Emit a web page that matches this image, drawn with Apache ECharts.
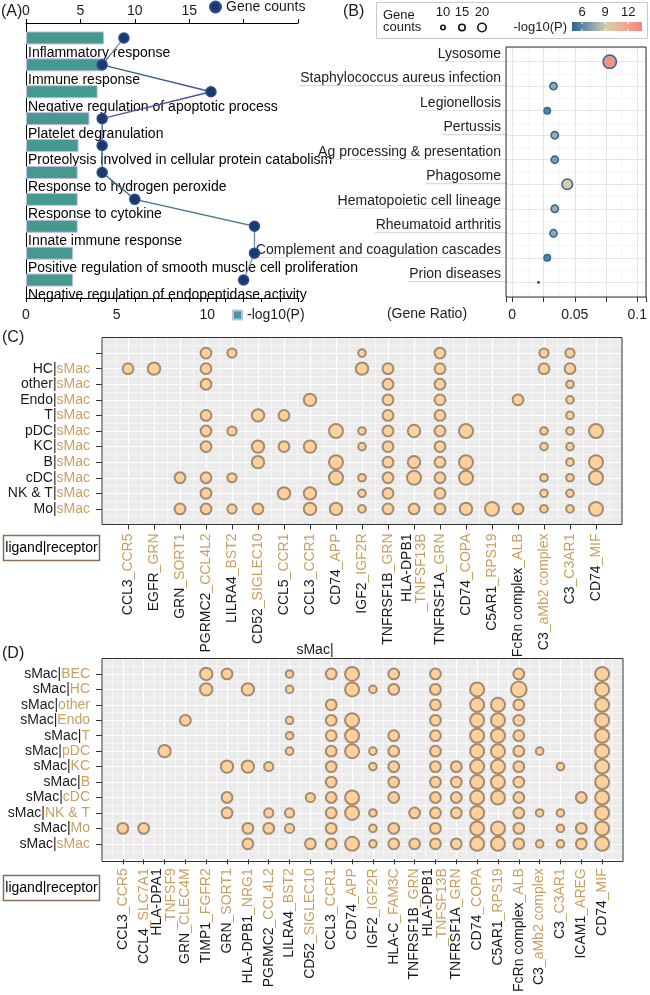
<!DOCTYPE html>
<html><head><meta charset="utf-8">
<script src="https://cdn.jsdelivr.net/npm/echarts@6/dist/echarts.min.js"></script>
<style>html,body{margin:0;padding:0;background:#fff}#c{width:650px;height:995px}</style>
</head><body><div id="c"></div>
<script>
// ---------------- Panel A : GO terms ----------------
const goTerms = ['Inflammatory response', 'Immune response', 'Negative regulation of apoptotic process',
  'Platelet degranulation', 'Proteolysis involved in cellular protein catabolism', 'Response to hydrogen peroxide',
  'Response to cytokine', 'Innate immune response', 'Positive regulation of smooth muscle cell proliferation',
  'Negative regulation of endopeptidase activity'];
const goLogP = [4.3, 4.3, 3.95, 3.5, 2.9, 2.85, 2.85, 2.85, 2.6, 2.6];
const goCounts = [9, 7, 17, 7, 7, 7, 10, 21, 21, 20];
const logPTicks = [0, 5, 10];
const countTicks = [0, 5, 10, 15];

// ---------------- Panel B : KEGG ----------------
const keggTerms = ['Lysosome', 'Staphylococcus aureus infection', 'Legionellosis', 'Pertussis',
  'Ag processing & presentation', 'Phagosome', 'Hematopoietic cell lineage', 'Rheumatoid arthritis',
  'Complement and coagulation cascades', 'Prion diseases'];
const keggRatio = [0.078, 0.033, 0.028, 0.034, 0.034, 0.044, 0.034, 0.033, 0.028, 0.021];
const keggCounts = [32, 17, 15, 17, 17, 25, 17, 17, 15, 3];
const keggLogP = [13.0, 7.5, 6.0, 7.8, 7.0, 9.5, 7.8, 7.6, 6.0, 5.0];
const ratioTicks = [0, 0.05, 0.1];
const sizeLegend = [10, 15, 20];
const colorTicks = [6, 9, 12];

// ---------------- Panel C : ligand|receptor -> sMac ----------------
const ligandsC = ['CCL3', 'EGFR', 'GRN', 'PGRMC2', 'LILRA4', 'CD52', 'CCL5', 'CCL3', 'CD74', 'IGF2', 'TNFRSF1B',
  'HLA-DPB1', 'TNFRSF1A', 'CD74', 'C5AR1', 'FcRn complex', 'C3', 'C3', 'CD74'];
const receptorsC = ['CCR5', 'GRN', 'SORT1', 'CCL4L2', 'BST2', 'SIGLEC10', 'CCR1', 'CCR1', 'APP', 'IGF2R', 'GRN',
  'TNFSF13B', 'GRN', 'COPA', 'RPS19', 'ALB', 'aMb2 complex', 'C3AR1', 'MIF'];
const sendersC = ['', 'HC', 'other', 'Endo', 'T', 'pDC', 'KC', 'B', 'cDC', 'NK & T', 'Mo'];
const receiverC = 'sMac';
const levelsC = [
  [0,0,0,3,2,0,0,0,0,1,0,0,3,0,0,0,2,2,0],
  [3,4,0,3,0,0,0,0,0,4,3,0,3,0,0,0,3,3,0],
  [0,0,0,3,0,0,0,0,0,0,3,0,3,0,0,0,0,1,0],
  [0,0,0,0,0,0,0,4,0,0,3,0,3,0,0,3,0,1,0],
  [0,0,0,3,0,4,3,0,0,0,3,0,3,0,0,0,0,1,0],
  [0,0,0,3,2,0,0,0,5,1,3,4,3,5,0,0,1,1,5],
  [0,0,0,3,0,4,3,4,0,1,3,0,3,0,0,0,1,1,0],
  [0,0,0,0,0,4,0,0,5,0,3,4,3,5,0,0,0,1,5],
  [0,0,3,3,2,0,0,0,5,1,3,5,3,5,0,0,1,1,5],
  [0,0,0,3,0,0,4,4,0,1,3,0,3,0,0,0,1,1,0],
  [0,0,3,3,2,3,0,4,4,1,3,3,3,4,5,3,1,1,5]
];

// ---------------- Panel D : sMac -> ligand|receptor ----------------
const ligandsD = ['CCL3', 'CCL4', 'HLA-DPA1', 'GRN', 'TIMP1', 'GRN', 'HLA-DPB1', 'PGRMC2', 'LILRA4', 'CD52', 'CCL3',
  'CD74', 'IGF2', 'HLA-C', 'TNFRSF1B', 'HLA-DPB1', 'TNFRSF1A', 'CD74', 'C5AR1', 'FcRn complex', 'C3', 'C3', 'ICAM1', 'CD74'];
const receptorsD = ['CCR5', 'SLC7A1', 'TNFSF9', 'CLEC4M', 'FGFR2', 'SORT1', 'NRG1', 'CCL4L2', 'BST2', 'SIGLEC10', 'CCR1',
  'APP', 'IGF2R', 'FAM3C', 'GRN', 'TNFSF13B', 'GRN', 'COPA', 'RPS19', 'ALB', 'aMb2 complex', 'C3AR1', 'AREG', 'MIF'];
const senderD = 'sMac';
const receiversD = ['BEC', 'HC', 'other', 'Endo', 'T', 'pDC', 'KC', 'B', 'cDC', 'NK & T', 'Mo', 'sMac'];
const levelsD = [
  [0,0,0,0,4,3,0,0,1,0,3,5,0,3,0,3,0,0,0,3,0,0,0,5],
  [0,0,0,0,4,0,4,0,1,0,0,5,1,3,0,3,0,5,0,6,0,0,0,5],
  [0,0,0,0,0,0,0,0,0,0,3,0,0,0,0,3,0,5,5,3,0,0,0,5],
  [0,0,0,3,0,0,0,0,1,0,3,5,0,0,0,3,0,5,5,3,0,0,0,5],
  [0,0,0,0,0,0,0,0,1,0,3,5,0,3,0,3,0,5,5,3,0,0,0,5],
  [0,0,4,0,0,0,0,0,1,0,3,5,1,3,0,3,0,5,5,3,1,0,0,5],
  [0,0,0,0,0,4,4,2,0,0,3,0,1,3,0,3,3,5,5,3,0,1,0,5],
  [0,0,0,0,0,0,0,0,0,0,3,0,0,3,0,3,3,5,5,3,0,0,0,5],
  [0,0,0,0,0,3,0,0,0,2,3,5,0,3,0,3,3,5,5,3,0,0,3,5],
  [0,0,0,0,0,3,0,2,2,0,3,5,1,0,3,3,3,5,0,3,1,1,0,5],
  [3,3,0,0,0,0,3,3,2,0,3,0,1,3,0,3,0,5,5,3,0,1,3,5],
  [0,0,0,0,0,0,3,0,0,3,3,5,1,3,3,3,3,5,5,3,1,1,3,5]
];
const wrapPairs = ['HLA-DPB1_TNFSF13B', 'HLA-DPA1_TNFSF9'];

// ---------------- styling / layout ----------------
const FONT = '"Liberation Sans", Arial, Helvetica, sans-serif';
const INK = '#1a1a1a';
const TAN = '#c9a060';
const pColors = ['#2c6496', '#8199a9', '#d4cfad', '#efab90', '#f4857d'];
const pRange = [4.7, 13.8];
const gAframe = { left: 26, top: 23, width: 272, height: 275 };   // axes of panel A
const gA = { left: 26, top: 24.5, width: 272, height: 269 };      // bars / dots of panel A
const gB = { left: 506, top: 47, width: 140, height: 250 };
const gC = { left: 102, top: 337.5, width: 520, height: 187 };
const gD = { left: 102, top: 658.5, width: 521, height: 203 };

const dB = c => Math.max(3, 0.4 * c + 2);         // visual diameter for gene counts (panel B)
const sizeLR = lv => 6 + 1.6 * lv;                // symbol size for interaction levels (C, D)

const rich = (fs) => ({
  k: { color: INK, fontSize: fs, fontFamily: FONT },
  t: { color: TAN, fontSize: fs, fontFamily: FONT }
});
function pairLabel(lig, rec) {
  const br = wrapPairs.includes(lig + '_' + rec) ? '\n' : '';
  return '{k|' + lig + '}' + br + '{t|_' + rec + '}';
}
const padCats = n => Array.from({ length: n + 2 }, (_, i) => 'c' + i);
const halfCats = n => Array.from({ length: 2 * (n + 1) + 1 }, (_, i) => 'h' + i);

function catMain(gridIndex, n, isX, labelFn) {
  const ax = {
    type: 'category', gridIndex, data: padCats(n), boundaryGap: false,
    axisLine: { show: false, onZero: false },
    axisTick: { show: true, length: 5, lineStyle: { color: '#333', width: 1 },
      interval: (i) => i > 0 && i <= n },
    axisLabel: { interval: 0, fontSize: 14, fontFamily: FONT, rich: rich(14),
      formatter: (v, i) => (i > 0 && i <= n) ? labelFn(i - 1) : '' },
    splitLine: { show: true, interval: 0, lineStyle: { color: '#ffffff', width: 1.2 } },
    z: 1
  };
  if (isX) { ax.position = 'bottom'; ax.axisLabel.rotate = 90; ax.axisLabel.margin = 9; }
  else { ax.position = 'left'; ax.inverse = true; ax.axisLabel.margin = 12; ax.axisTick.length = 6; }
  return ax;
}
function catMinor(gridIndex, n, isX) {
  return {
    type: 'category', gridIndex, data: halfCats(n), boundaryGap: false, inverse: !isX,
    position: isX ? 'bottom' : 'left',
    axisLine: { show: false, onZero: false }, axisTick: { show: false }, axisLabel: { show: false },
    splitLine: { show: true, interval: (i) => i % 2 === 1, lineStyle: { color: '#ffffff', width: 0.55 } },
    z: 0
  };
}

// ---------------- data for series ----------------
const dataB = keggTerms.map((t, i) => [keggRatio[i], i, keggLogP[i], keggCounts[i]]);
const toPoints = (levels) => levels.flatMap((row, r) =>
  row.map((lv, c) => lv ? [c + 1, r + 1, lv] : null).filter(Boolean));
const dataC = toPoints(levelsC);
const dataD = toPoints(levelsD);

// ---------------- graphics (titles, frames, legends) ----------------
const G = [];
function text(x, y, t, o) {
  G.push({ type: 'text', x, y, silent: true, z: 80,
    style: Object.assign({ text: t, fill: INK, fontSize: 14, fontFamily: FONT, align: 'left', verticalAlign: 'middle' }, o || {}) });
}
function frame(g, color) {
  G.push({ type: 'rect', silent: true, z: 70,
    shape: { x: g.left, y: g.top, width: g.width, height: g.height },
    style: { fill: 'none', stroke: color, lineWidth: 1 } });
}
text(1, 12, '(A)', { fontSize: 16 });
text(343, 12, '(B)', { fontSize: 16 });
text(2, 338, '(C)', { fontSize: 16 });
text(2, 654, '(D)', { fontSize: 16 });
frame(gB, '#333');
frame(gC, '#333');
frame(gD, '#333');
text(427, 314, '(Gene Ratio)', { align: 'center', fill: '#222' });
text(315, 650, senderD + '|', { align: 'center' });

// ligand|receptor boxes
[[gC.top + gC.height + 11], [gD.top + gD.height + 14]].forEach(([y]) => {
  G.push({ type: 'rect', silent: true, z: 70, shape: { x: 3.5, y: y, width: 96, height: 25 },
    style: { fill: '#fff', stroke: '#8b6f55', lineWidth: 1.5 } });
  G.push({ type: 'text', silent: true, z: 80, x: 51.5, y: y + 12.5,
    style: { text: '{k|ligand|}{t|receptor}', rich: rich(14), align: 'center', verticalAlign: 'middle' } });
});

// Panel B legend box
G.push({ type: 'rect', silent: true, z: 70, shape: { x: 376.5, y: 2.5, width: 271, height: 36 },
  style: { fill: '#fff', stroke: '#c8c8c8', lineWidth: 1 } });
text(383, 15, 'Gene', { fontSize: 13 });
text(383, 27, 'counts', { fontSize: 13 });
const sizeX = [443, 462, 482];
sizeLegend.forEach((c, i) => {
  text(sizeX[i], 12, String(c), { fontSize: 13, align: 'center' });
  const d = dB(c);
  G.push({ type: 'circle', silent: true, z: 80, shape: { cx: sizeX[i], cy: 27.5, r: d / 2 - 0.8 },
    style: { fill: 'none', stroke: '#111', lineWidth: 1.6 } });
});
text(567, 27, '-log10(P)', { fontSize: 13, align: 'right' });
const cb = { x: 572, y: 22, w: 70, h: 9 };
G.push({ type: 'rect', silent: true, z: 75, shape: { x: cb.x, y: cb.y, width: cb.w, height: cb.h },
  style: { fill: new echarts.graphic.LinearGradient(0, 0, 1, 0,
    pColors.map((c, i) => ({ offset: i / (pColors.length - 1), color: c }))) } });
colorTicks.forEach(t => {
  const x = cb.x + (t - pRange[0]) / (pRange[1] - pRange[0]) * cb.w;
  text(x, 12, String(t), { fontSize: 13, align: 'center' });
  G.push({ type: 'line', silent: true, z: 76, shape: { x1: x, y1: cb.y, x2: x, y2: cb.y + 2 }, style: { stroke: '#fff', lineWidth: 1 } });
  G.push({ type: 'line', silent: true, z: 76, shape: { x1: x, y1: cb.y + cb.h - 2, x2: x, y2: cb.y + cb.h }, style: { stroke: '#fff', lineWidth: 1 } });
});

const underline = {
  type: 'linear', x: 0, y: 0, x2: 0, y2: 1,
  colorStops: [{ offset: 0, color: 'rgba(0,0,0,0)' }, { offset: 0.92, color: 'rgba(0,0,0,0)' },
    { offset: 0.92, color: '#dadada' }, { offset: 1, color: '#dadada' }]
};
const lineGrad = {
  type: 'linear', x: 0, y: 0, x2: 0, y2: 1,
  colorStops: [{ offset: 0, color: '#9aa6cc' }, { offset: 0.12, color: '#2c6a80' }, { offset: 0.25, color: '#5446b0' },
    { offset: 0.45, color: '#4a6f8c' }, { offset: 0.6, color: '#2c6a80' }, { offset: 0.8, color: '#5f8799' },
    { offset: 1, color: '#8aa2c4' }]
};
const blackAxis = { show: true, onZero: false, lineStyle: { color: '#000', width: 1 } };

const option = {
  animation: false,
  textStyle: { fontFamily: FONT },
  grid: [
    Object.assign({ show: false }, gA),
    Object.assign({ show: false }, gAframe),
    Object.assign({ show: true, backgroundColor: '#ffffff', borderWidth: 0 }, gB),
    Object.assign({ show: true, backgroundColor: '#ebebeb', borderWidth: 0 }, gC),
    Object.assign({ show: true, backgroundColor: '#ebebeb', borderWidth: 0 }, gD)
  ],
  legend: [
    { data: ['Gene counts'], left: 209, top: 0, padding: 0, itemWidth: 11, itemHeight: 11, itemGap: 4,
      icon: 'circle', textStyle: { fontSize: 14, color: INK, fontFamily: FONT }, selectedMode: false },
    { data: ['-log10(P)'], left: 232, top: 308, padding: 0, itemWidth: 9, itemHeight: 9,
      icon: 'rect', textStyle: { fontSize: 14, color: INK, fontFamily: FONT }, selectedMode: false }
  ],
  visualMap: [{ type: 'continuous', show: false, seriesIndex: 2, dimension: 2,
    min: pRange[0], max: pRange[1], inRange: { color: pColors } }],
  xAxis: [
    // 0,1: data axes of panel A (hidden)
    { type: 'value', gridIndex: 0, position: 'bottom', min: 0, max: 15, interval: 1, show: false },
    { type: 'value', gridIndex: 0, position: 'top', min: 0, max: 25, interval: 5, show: false },
    // 2,3: displayed axes of panel A
    { type: 'value', gridIndex: 1, position: 'bottom', min: 0, max: 15, interval: 1,
      axisLine: blackAxis, axisTick: { show: true, length: 4, lineStyle: { color: '#000' } },
      axisLabel: { fontSize: 14, color: INK, margin: 10, formatter: v => logPTicks.includes(v) ? String(v) : '' },
      splitLine: { show: false } },
    { type: 'value', gridIndex: 1, position: 'top', min: 0, max: 25, interval: 5,
      axisLine: blackAxis, axisTick: { show: true, length: 4, lineStyle: { color: '#000' } },
      axisLabel: { fontSize: 14, color: INK, margin: 5, formatter: v => countTicks.includes(v) ? String(v) : '' },
      splitLine: { show: false } },
    // 4,5: panel B
    { type: 'value', gridIndex: 2, position: 'bottom', min: -0.005, max: 0.107, minInterval: 0.025, maxInterval: 0.025,
      axisLine: { show: false, onZero: false },
      axisTick: { show: true, length: 5, lineStyle: { color: '#333' } },
      axisLabel: { fontSize: 14, color: '#222', margin: 11,
        formatter: v => ratioTicks.some(t => Math.abs(t - v) < 1e-9) ? String(+v.toFixed(3)) : '' },
      splitLine: { show: true, lineStyle: { color: '#e4e4e4', width: 1 } }, z: 1 },
    { type: 'value', gridIndex: 2, position: 'bottom', min: -0.0175, max: 0.0945, minInterval: 0.025, maxInterval: 0.025,
      axisLine: { show: false, onZero: false }, axisTick: { show: false }, axisLabel: { show: false },
      splitLine: { show: true, lineStyle: { color: '#f1f1f1', width: 0.6 } }, z: 0 },
    // 6,7: panel C ; 8,9: panel D
    catMain(3, ligandsC.length, true, i => pairLabel(ligandsC[i], receptorsC[i])),
    catMinor(3, ligandsC.length, true),
    catMain(4, ligandsD.length, true, i => pairLabel(ligandsD[i], receptorsD[i])),
    catMinor(4, ligandsD.length, true)
  ],
  yAxis: [
    // 0: categories of panel A
    { type: 'category', gridIndex: 0, data: goTerms, inverse: true,
      axisLine: { show: false }, axisTick: { show: false },
      axisLabel: { inside: true, interval: 0, margin: 2, align: 'left', verticalAlign: 'top',
        padding: [8, 0, 0, 0], fontSize: 14, color: '#000', fontFamily: FONT },
      splitLine: { show: false } },
    // 1: left axis line of panel A
    { type: 'value', gridIndex: 1, min: 0, max: 1, axisLine: blackAxis, axisTick: { show: false },
      axisLabel: { show: false }, splitLine: { show: false } },
    // 2,3: panel B
    { type: 'value', gridIndex: 2, position: 'left', inverse: true, min: -0.6, max: 9.6, minInterval: 1, maxInterval: 1,
      axisLine: { show: false, onZero: false }, axisTick: { show: false },
      axisLabel: { margin: 0, align: 'right', verticalAlign: 'bottom',
        formatter: v => (Number.isInteger(v) && v >= 0 && v < keggTerms.length) ? '{u|' + keggTerms[v] + '}' : '',
        rich: { u: { fontSize: 14, color: '#222', fontFamily: FONT, padding: [0, 5, 1, 1], backgroundColor: underline } } },
      splitLine: { show: true, lineStyle: { color: '#e4e4e4', width: 1 } }, z: 1 },
    { type: 'value', gridIndex: 2, position: 'right', inverse: true, min: -0.1, max: 10.1, minInterval: 1, maxInterval: 1,
      axisLine: { show: false, onZero: false }, axisTick: { show: false }, axisLabel: { show: false },
      splitLine: { show: true, lineStyle: { color: '#f1f1f1', width: 0.6 } }, z: 0 },
    // 4,5: panel C ; 6,7: panel D
    catMain(3, sendersC.length, false, i => sendersC[i] ? '{k|' + sendersC[i] + '|}{t|' + receiverC + '}' : ''),
    catMinor(3, sendersC.length, false),
    catMain(4, receiversD.length, false, i => '{k|' + senderD + '|}{t|' + receiversD[i] + '}'),
    catMinor(4, receiversD.length, false)
  ],
  series: [
    { name: '-log10(P)', type: 'bar', xAxisIndex: 0, yAxisIndex: 0, data: goLogP, barWidth: 13,
      itemStyle: { color: '#45998f', borderColor: '#c3bce9', borderWidth: 1 }, z: 2 },
    { name: 'Gene counts', type: 'line', xAxisIndex: 1, yAxisIndex: 0, data: goCounts,
      symbol: 'circle', symbolSize: 10, z: 4,
      lineStyle: { color: lineGrad, width: 1.3 },
      itemStyle: { color: '#1a3b68', borderColor: '#2b4aa0', borderWidth: 1.5 } },
    { name: 'KEGG', type: 'scatter', xAxisIndex: 4, yAxisIndex: 2, data: dataB,
      symbolSize: v => dB(v[3]) - 1.5, z: 5,
      itemStyle: { borderColor: '#2c6a94', borderWidth: 1.5, opacity: 1 } },
    { name: 'C', type: 'scatter', xAxisIndex: 6, yAxisIndex: 4, data: dataC,
      symbolSize: v => sizeLR(v[2]), z: 5,
      itemStyle: { color: '#fdd09c', borderColor: '#a48a6e', borderWidth: 2, opacity: 1 } },
    { name: 'D', type: 'scatter', xAxisIndex: 8, yAxisIndex: 6, data: dataD,
      symbolSize: v => sizeLR(v[2]), z: 5,
      itemStyle: { color: '#fdd09c', borderColor: '#a48a6e', borderWidth: 2, opacity: 1 } }
  ],
  graphic: G
};

const chart = echarts.init(document.getElementById('c'), null, { renderer: 'canvas', width: 650, height: 995 });
chart.setOption(option);
</script>
</body></html>
